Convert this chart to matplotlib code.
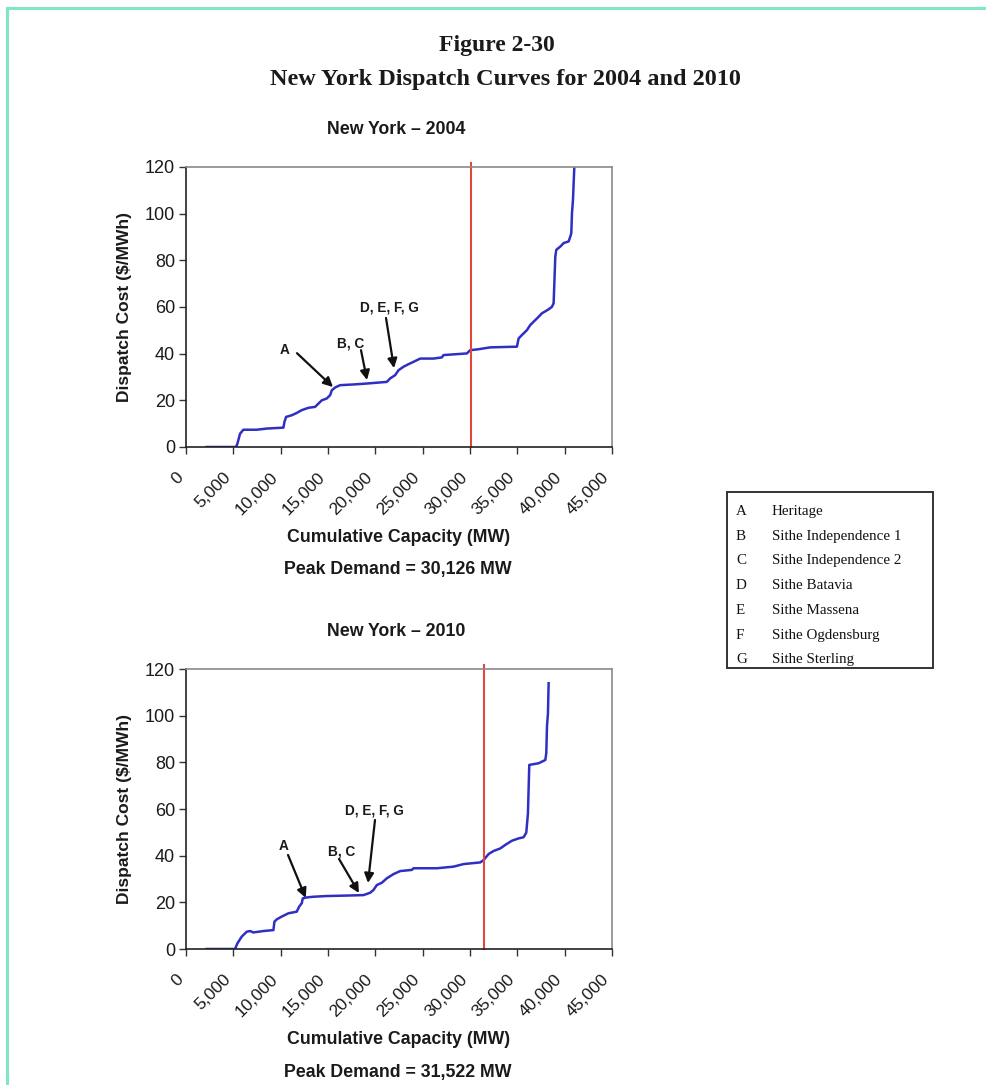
import matplotlib
matplotlib.use("Agg")
import matplotlib.pyplot as plt
from matplotlib.lines import Line2D
from matplotlib.patches import Rectangle

# ---- data -------------------------------------------------------------
cap_2004 = [2185, 5286, 5427, 5709, 6061, 7471, 8528, 10290, 10396, 10572,
            11171, 11700, 12228, 12933, 13638, 13990, 14343, 14871, 15224,
            15400, 15752, 16280, 17690, 19100, 21214, 21567, 22095, 22448,
            22977, 23505, 24034, 24739, 26148, 27029, 27205, 29672, 30024,
            30729, 32139, 34958, 35135, 35487, 36015, 36367, 36720, 37072,
            37600, 38305, 38658, 38834, 39010, 39116, 39539, 39891, 40420,
            40596, 40702, 40772, 40878, 41019]
cost_2004 = [0, 0, 1.4, 5.7, 7.4, 7.4, 7.9, 8.3, 10.7, 12.9,
             13.6, 14.6, 15.8, 16.8, 17.2, 18.6, 20.0, 20.8, 22.2,
             24.3, 25.5, 26.5, 26.8, 27.2, 27.9, 29.4, 30.8, 32.9,
             34.4, 35.5, 36.5, 37.9, 37.9, 38.4, 39.4, 40.1, 41.5,
             41.8, 42.7, 43.0, 46.5, 48.0, 50.1, 52.3, 53.7, 55.1,
             57.3, 59.0, 60.1, 61.6, 81.6, 84.5, 85.9, 87.4, 88.1,
             90.2, 91.7, 100.2, 106.0, 120.0]

cap_2010 = [2185, 5180, 5427, 5885, 6414, 6766, 7118, 8176, 9233, 9339,
            9585, 10114, 10466, 10819, 11700, 11946, 12228, 12334, 12757,
            13462, 14871, 16986, 18748, 19452, 19805, 20157, 20686, 21214,
            21919, 22624, 23857, 24034, 26500, 28262, 29319, 31081, 31434,
            31962, 32490, 33195, 33724, 34429, 35134, 35663, 35945, 36121,
            36262, 37248, 37601, 37954, 38059, 38130, 38235, 38305]
cost_2010 = [0, 0, 2.4, 5.3, 7.4, 7.7, 7.1, 7.7, 8.1, 11.7,
             12.7, 13.9, 14.6, 15.3, 16.0, 18.1, 19.6, 21.7, 22.1,
             22.4, 22.7, 22.9, 23.1, 24.1, 25.3, 27.4, 28.4, 30.3,
             32.1, 33.4, 33.9, 34.6, 34.6, 35.3, 36.4, 37.1, 38.1,
             40.7, 42.0, 43.1, 44.6, 46.4, 47.4, 47.9, 49.9, 58.1,
             78.9, 79.6, 80.3, 81.0, 83.9, 95.3, 101.0, 113.9]

peak_2004 = 30126
peak_2010 = 31522

x_ticks = [0, 5000, 10000, 15000, 20000, 25000, 30000, 35000, 40000, 45000]
x_ticklabels = ["0", "5,000", "10,000", "15,000", "20,000", "25,000",
                "30,000", "35,000", "40,000", "45,000"]
y_ticks = [0, 20, 40, 60, 80, 100, 120]

legend_keys = ["A", "B", "C", "D", "E", "F", "G"]
legend_names = ["Heritage", "Sithe Independence 1", "Sithe Independence 2",
                "Sithe Batavia", "Sithe Massena", "Sithe Ogdensburg",
                "Sithe Sterling"]

# annotation label text, text position, arrow tail, arrow head (data units)
notes_2004 = [
    ("A", (10458, 41.5), (11725, 40.2), (15528, 25.7)),
    ("B, C", (17430, 44.5), (18486, 41.5), (19120, 28.7)),
    ("D, E, F, G", (21444, 59.6), (21127, 55.3), (21972, 33.8)),
]
notes_2010 = [
    ("A", (10352, 44.1), (10775, 40.3), (12644, 21.9)),
    ("B, C", (16480, 42.0), (16162, 38.6), (18274, 24.0)),
    ("D, E, F, G", (19860, 59.2), (19965, 55.3), (19225, 28.3)),
]

# ---- figure -------------------------------------------------------------
W, H = 987, 1085
fig = plt.figure(figsize=(W / 100, H / 100), dpi=100)
fig.patch.set_facecolor("white")


def fx(px):
    return px / W


def fy(py):
    return 1 - py / H


SANS = "Liberation Sans"
SERIF = "Liberation Serif"
LINE_BLUE = "#2f2fc4"
PEAK_RED = "#e2463c"
TEXT = "#1a1a1a"

# page edge lines
fig.add_artist(Line2D([fx(7), fx(7)], [0, fy(8)], color="#7fe6c6", lw=2.2,
                      transform=fig.transFigure))
fig.add_artist(Line2D([fx(7), 1], [fy(8), fy(8)], color="#7fe6c6", lw=2.2,
                      transform=fig.transFigure))

fig.text(fx(497), fy(46), "Figure 2-30", family=SERIF, weight="bold",
         fontsize=17, ha="center", va="center", color=TEXT)
fig.text(fx(505), fy(80), "New York Dispatch Curves for 2004 and 2010",
         family=SERIF, weight="bold", fontsize=17.5, ha="center",
         va="center", color=TEXT)


def panel(top_px, bottom_px, caps, costs, peak, notes, year, peak_text):
    ax = fig.add_axes([fx(186), fy(bottom_px), (612 - 186) / W,
                       (bottom_px - top_px) / H])
    ax.plot(caps, costs, color=LINE_BLUE, lw=1.8, solid_joinstyle="round")
    ax.axvline(peak, ymin=0, ymax=1.015, color=PEAK_RED, lw=1.5,
               clip_on=False)
    ax.set_xlim(0, 45000)
    ax.set_ylim(0, 120)
    ax.set_xticks(x_ticks)
    ax.set_xticklabels(x_ticklabels, rotation=45, ha="right", va="top",
                       family=SANS, fontsize=12.5, color=TEXT)
    ax.set_yticks(y_ticks)
    ax.set_yticklabels([str(v) for v in y_ticks], family=SANS, fontsize=13,
                       color=TEXT)
    ax.tick_params(axis="x", direction="out", length=5, width=1,
                   pad=11, color="#333333")
    ax.tick_params(axis="y", direction="out", length=5, width=1,
                   pad=3, color="#333333")
    for side in ("top", "right"):
        ax.spines[side].set_color("#8a8a8a")
        ax.spines[side].set_linewidth(1.2)
    for side in ("left", "bottom"):
        ax.spines[side].set_color("#222222")
        ax.spines[side].set_linewidth(1.2)
    ax.set_ylabel("Dispatch Cost ($/MWh)", family=SANS, weight="bold",
                  fontsize=12.5, labelpad=9, color=TEXT)

    for label, txt, tail, head in notes:
        ax.text(txt[0], txt[1], label, family=SANS, weight="bold",
                fontsize=9.8, ha="center", va="center", color=TEXT)
        ax.annotate("", xy=head, xytext=tail,
                    arrowprops=dict(arrowstyle="-|>", color="#111111",
                                    lw=1.6, mutation_scale=14,
                                    shrinkA=0, shrinkB=0))

    fig.text(fx(396), fy(top_px - 37), f"New York \u2013 {year}",
             family=SANS, weight="bold", fontsize=12.8, ha="center",
             va="center", color=TEXT)
    fig.text(fx(399), fy(bottom_px + 90), "Cumulative Capacity (MW)",
             family=SANS, weight="bold", fontsize=12.8, ha="center",
             va="center", color=TEXT)
    fig.text(fx(398), fy(bottom_px + 123), peak_text,
             family=SANS, weight="bold", fontsize=12.8, ha="center",
             va="center", color=TEXT)
    return ax


panel(167, 447, cap_2004, cost_2004, peak_2004, notes_2004, 2004,
      "Peak Demand = 30,126 MW")
panel(669, 949, cap_2010, cost_2010, peak_2010, notes_2010, 2010,
      "Peak Demand = 31,522 MW")

# key box for the plant letters
fig.add_artist(Rectangle((fx(727), fy(668)), (933 - 727) / W,
                         (668 - 492) / H, transform=fig.transFigure,
                         fill=False, edgecolor="#333333", lw=1.4))
row_y = [510, 535, 559, 584, 609, 634, 658]
for key, name, ry in zip(legend_keys, legend_names, row_y):
    fig.text(fx(736), fy(ry + 5), key, family=SERIF, fontsize=10.8,
             ha="left", va="baseline", color="#111111")
    fig.text(fx(772), fy(ry + 5), name, family=SERIF, fontsize=10.8,
             ha="left", va="baseline", color="#111111")

fig.savefig("out.png", dpi=100, facecolor="white")
